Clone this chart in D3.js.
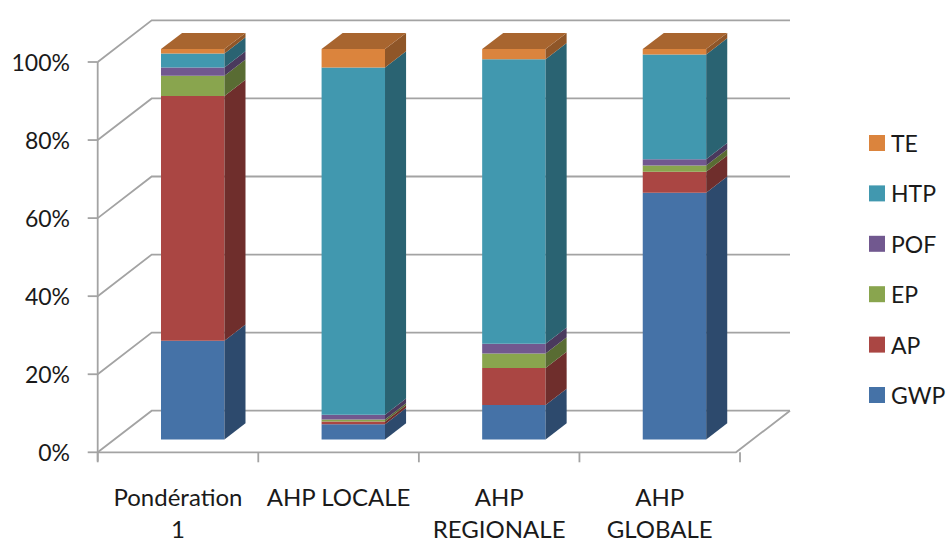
<!DOCTYPE html>
<html>
<head>
<meta charset="utf-8">
<script src="https://cdn.jsdelivr.net/npm/d3@7"></script>
<style>
  html, body { margin: 0; padding: 0; background: #fff; }
  svg { display: block; }
  text { font-family: Lato, "Open Sans", sans-serif; fill: #1a1a1a; }
</style>
</head>
<body>
<svg id="chart" width="948" height="541"></svg>
<script>
// ---- data ----
const categories = ["Pondération 1", "AHP LOCALE", "AHP REGIONALE", "AHP GLOBALE"];
const categoryLines = [["Pondération", "1"], ["AHP LOCALE"], ["AHP", "REGIONALE"], ["AHP", "GLOBALE"]];
const seriesNames = ["GWP", "AP", "EP", "POF", "HTP", "TE"];
const GWP = [25.3, 3.9, 8.8, 63.2];
const AP  = [62.7, 0.7, 9.5, 5.4];
const EP  = [5.2, 0.5, 3.7, 1.6];
const POF = [2.1, 1.2, 2.5, 1.6];
const HTP = [3.6, 89.0, 72.9, 26.8];
const TE  = [1.1, 4.7, 2.6, 1.4];
const seriesColors = ["#4572A7", "#AA4643", "#89A54E", "#71588F", "#4198AF", "#DB843D"];
const yTickValues = [0, 0.2, 0.4, 0.6, 0.8, 1];

const seriesValues = [GWP, AP, EP, POF, HTP, TE];
const rows = categories.map((c, i) => {
  const r = { category: c };
  seriesNames.forEach((s, j) => r[s] = seriesValues[j][i]);
  return r;
});
const stacked = d3.stack().keys(seriesNames).offset(d3.stackOffsetExpand)(rows);

// ---- layout ----
const svg = d3.select("#chart");
const X0 = 97.7, XR = 736;
const DX = 54, DY = -41.6;          // full depth offset of the 3D box
const Z0 = 0.31, Z1 = 0.70;         // bar depth range
const y = d3.scaleLinear().domain([0, 1]).range([452.3, 62]);
const x = d3.scaleBand().domain(categories).range([X0, XR]).paddingInner(0.605).paddingOuter(0.29);
const step = x.step();
const P = (px, v, z) => [px + z * DX, y(v) + z * DY];
const grid = "#A3A3A3";

// back wall gridlines + left wall diagonals
const gg = svg.append("g").attr("fill", "none").attr("stroke", grid).attr("stroke-width", 1.8);
yTickValues.forEach(v => {
  const a = P(X0, v, 0), b = P(X0, v, 1), c = P(XR, v, 1);
  gg.append("path").attr("d", `M${a}L${b}L${c}`);
});
// floor
{
  const a = P(X0, 0, 0), b = P(XR, 0, 0), c = P(XR, 0, 1);
  gg.append("path").attr("d", `M${a}L${b}L${c}`);
}
// y axis line + ticks
gg.append("line").attr("x1", X0).attr("x2", X0).attr("y1", y(1)).attr("y2", y(0) + 9);
yTickValues.forEach(v => {
  gg.append("line").attr("x1", X0 - 10).attr("x2", X0).attr("y1", y(v)).attr("y2", y(v));
});
// x ticks at category boundaries
d3.range(categories.length + 1).forEach(i => {
  const tx = X0 + i * step;
  gg.append("line").attr("x1", tx).attr("x2", tx).attr("y1", y(0)).attr("y2", y(0) + 10);
});

// y labels
svg.append("g").selectAll("text").data(yTickValues).join("text")
  .attr("x", 70).attr("y", d => y(d))
  .attr("text-anchor", "end").attr("dominant-baseline", "central")
  .style("font-size", "23px")
  .text(d3.format(".0%"));

// bars
const poly = pts => "M" + pts.map(p => p.join(",")).join("L") + "Z";
const bars = svg.append("g");
categories.forEach((c, i) => {
  const x0 = x(c), x1 = x0 + x.bandwidth();
  stacked.forEach((layer, j) => {
    const [v0, v1] = layer[i];
    if (v1 - v0 <= 0) return;
    const col = d3.color(seriesColors[j]);
    const side = col.darker(1.2).formatHex();
    const top = col.darker(0.75).formatHex();
    bars.append("path").attr("fill", col.formatHex())
      .attr("d", poly([P(x0, v0, Z0), P(x1, v0, Z0), P(x1, v1, Z0), P(x0, v1, Z0)]));
    bars.append("path").attr("fill", side)
      .attr("d", poly([P(x1, v0, Z0), P(x1, v0, Z1), P(x1, v1, Z1), P(x1, v1, Z0)]));
    if (j === stacked.length - 1) {
      bars.append("path").attr("fill", top)
        .attr("d", poly([P(x0, v1, Z0), P(x1, v1, Z0), P(x1, v1, Z1), P(x0, v1, Z1)]));
    }
  });
});

// category labels
const cl = svg.append("g");
categories.forEach((c, i) => {
  const cx = X0 + step * (i + 0.5);
  categoryLines[i].forEach((line, k) => {
    cl.append("text").attr("x", cx).attr("y", 496 + k * 32)
      .attr("text-anchor", "middle").attr("dominant-baseline", "central")
      .style("font-size", "24px").text(line);
  });
});

// legend (reversed order, TE on top)
const lg = svg.append("g");
seriesNames.slice().reverse().forEach((s, k) => {
  const j = seriesNames.indexOf(s);
  const cy = 143 + k * 50.4;
  lg.append("rect").attr("x", 869).attr("y", cy - 8).attr("width", 16).attr("height", 16)
    .attr("fill", seriesColors[j]);
  lg.append("text").attr("x", 891).attr("y", cy).attr("dominant-baseline", "central")
    .style("font-size", "23px").text(s);
});
</script>
</body>
</html>
